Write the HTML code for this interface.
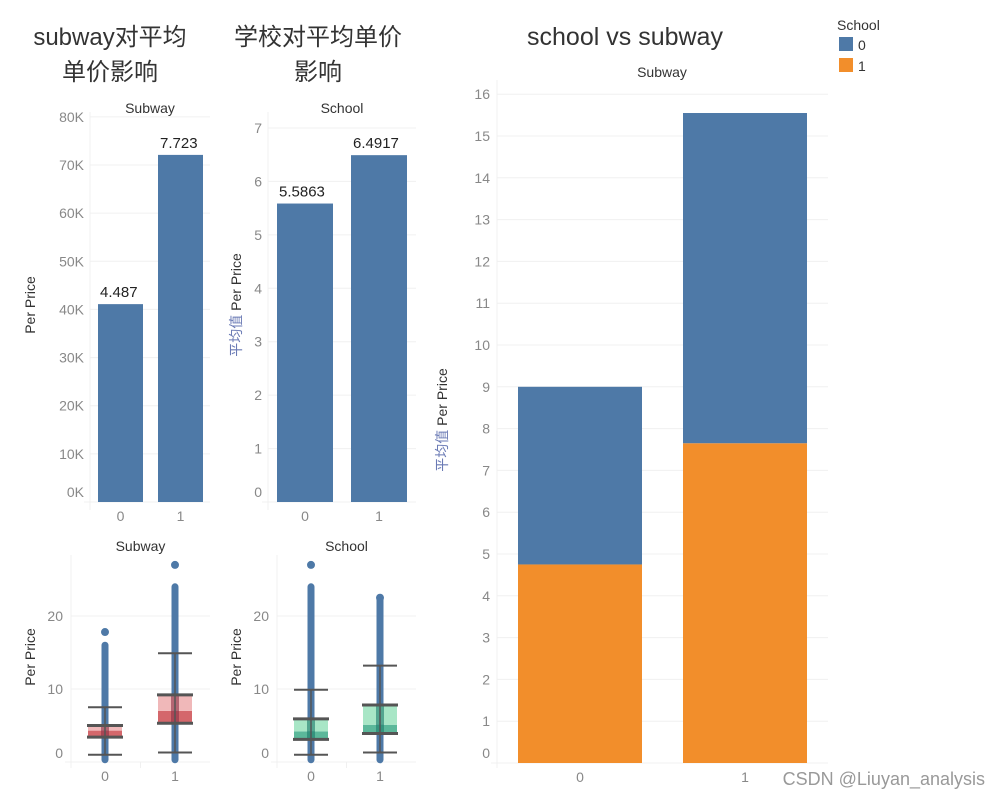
<!DOCTYPE html>
<html><head><meta charset="utf-8">
<style>
body{margin:0;background:#fff;}
svg{display:block;font-family:"Liberation Sans","Noto Sans CJK SC",sans-serif;}
.tick{fill:#888;font-size:14px;}
.grid{stroke:#f0f0f0;stroke-width:1;}
</style></head>
<body>
<svg id="c" width="1000" height="800">
<text x="110" y="45" font-size="24" fill="#333" text-anchor="middle">subway对平均</text>
<text x="110" y="80" font-size="24" fill="#333" text-anchor="middle">单价影响</text>
<text x="318" y="45" font-size="24" fill="#333" text-anchor="middle">学校对平均单价</text>
<text x="318" y="80" font-size="24" fill="#333" text-anchor="middle">影响</text>
<text x="625" y="45" font-size="25" fill="#333" text-anchor="middle">school vs subway</text>
<g>
<text x="837" y="30" font-size="14" fill="#333">School</text>
<rect x="839" y="37" width="14" height="14" fill="#4e79a7"/>
<text x="858" y="50" font-size="14" fill="#333">0</text>
<rect x="839" y="58" width="14" height="14" fill="#f28e2b"/>
<text x="858" y="71" font-size="14" fill="#333">1</text>
</g>
<text x="985" y="785" font-size="18" fill="#999" text-anchor="end">CSDN @Liuyan_analysis</text>
</svg>
<script>
// ---- data ----
const catLabels = ["0","1"];
const subwayMeans = [41100, 72100];
const subwayLabels = ["4.487","7.723"];
const subwayTicks = [0,10000,20000,30000,40000,50000,60000,70000,80000];
const subwayTickLabels = ["0K","10K","20K","30K","40K","50K","60K","70K","80K"];
const schoolMeans = [5.5863, 6.4917];
const schoolLabels = ["5.5863","6.4917"];
const schoolTicks = [0,1,2,3,4,5,6,7];
// box plot: [lowWhisker, q1, median, q3, highWhisker, outlierTop, maxPoint]
const subwayBox0 = [1.0, 3.4, 4.3, 5.0, 7.5, 16, 17.8];
const subwayBox1 = [1.3, 5.3, 7.0, 9.2, 14.9, 24, 27];
const schoolBox0 = [1.0, 3.1, 4.2, 5.9, 9.9, 24, 27];
const schoolBox1 = [1.3, 3.9, 5.1, 7.8, 13.2, 22.5, 22.5];
const boxTicks = [0,10,20];
const mainSchool0 = [4.25, 7.9];
const mainSchool1 = [4.75, 7.65];
const mainTicks = [0,1,2,3,4,5,6,7,8,9,10,11,12,13,14,15,16];

const svg = document.getElementById('c');
const NS = 'http://www.w3.org/2000/svg';
function mk(tag, attrs, parent){const e=document.createElementNS(NS,tag);for(const k in attrs)e.setAttribute(k,attrs[k]);(parent||svg).appendChild(e);return e;}
function txt(x,y,s,cls,extra){const t=mk('text',Object.assign({x:x,y:y},extra||{}));if(cls)t.setAttribute('class',cls);t.textContent=s;return t;}

function barPanel(name, x0, x1, base, yTop, vTop, ticks, tickLabels, vals, labels, bars, header, ytitle, cn, titleX){
  const g=mk('g',{});
  
  
  const y=v=>base-(v/vTop)*(base-yTop);
  mk('line',{x1:x0,x2:x0,y1:base-390,y2:base+8,class:'grid'},g);
  mk('line',{x1:x0-6,x2:x1,y1:base,y2:base,class:'grid'},g);
  ticks.forEach((t,i)=>{
    if(t>0) mk('line',{x1:x0,x2:x1,y1:y(t),y2:y(t),class:'grid'},g);
    const ty=Math.min(y(t)+5, base-5);
    const tl=txt(x0-6,ty,tickLabels[i],'tick',{'text-anchor':'end'});
    g.appendChild(tl);
    
    
  });
  vals.forEach((v,i)=>{
    const r=mk('rect',{x:bars[i][0],y:y(v),width:bars[i][1]-bars[i][0],height:base-y(v),fill:'#4e79a7'},g);
    
    
    const l=txt(bars[i][0]+2,y(v)-7,labels[i],null,{'font-size':15,fill:'#222'});
    g.appendChild(l);
    
    
    const c=txt((bars[i][0]+bars[i][1])/2,base+19,catLabels[i],'tick',{'text-anchor':'middle'});
    g.appendChild(c);
    
    
  });
  const h=txt((x0+x1)/2,113,header,null,{'font-size':14,fill:'#333','text-anchor':'middle'});
  g.appendChild(h);
  
  
  const yt=mk('text',{transform:'translate('+titleX+',305) rotate(-90)','font-size':14,fill:'#333','text-anchor':'middle'},g);
  
  
  if(cn){const s=mk('tspan',{fill:'#6a7ab5'},yt);s.textContent='平均值 ';}
  const s2=mk('tspan',{},yt);s2.textContent=ytitle;
}
barPanel('subway-mean-chart',90,210,502,165,70000,subwayTicks,subwayTickLabels,subwayMeans,subwayLabels,[[98,143],[158,203]],'Subway','Per Price',false,35);
barPanel('school-mean-chart',268,416,502,128,7,schoolTicks,schoolTicks.map(String),schoolMeans,schoolLabels,[[277,333],[351,407]],'School','Per Price',true,241);

function boxPanel(name,x0,x1,centers,boxes,header,dark,light,mid){
  const g=mk('g',{});
  
  
  const base=762;
  const y=v=>base-v*7.3;
  mk('line',{x1:x0,x2:x0,y1:555,y2:768,class:'grid'},g);
  mk('line',{x1:x0-6,x2:x1,y1:base,y2:base,class:'grid'},g);
  mk('line',{x1:(x0+x1)/2,x2:(x0+x1)/2,y1:base,y2:768,class:'grid'},g);
  boxTicks.forEach(t=>{
    if(t>0) mk('line',{x1:x0,x2:x1,y1:y(t),y2:y(t),class:'grid'},g);
    const tl=txt(x0-8,Math.min(y(t)+5,base-4),String(t),'tick',{'text-anchor':'end'});
    g.appendChild(tl);
    
    
  });
  boxes.forEach((b,i)=>{
    const cx=centers[i];
    const bg=mk('g',{},g);
    
    
    mk('line',{x1:cx,x2:cx,y1:y(0.3),y2:y(b[5]),stroke:'#4e79a7','stroke-width':7,'stroke-linecap':'round'},bg);
    mk('circle',{cx:cx,cy:y(b[6]),r:4,fill:'#4e79a7'},bg);
    mk('rect',{x:cx-17,y:y(b[2]),width:34,height:y(b[1])-y(b[2]),fill:dark},bg);
    mk('rect',{x:cx-17,y:y(b[3]),width:34,height:y(b[2])-y(b[3]),fill:light},bg);
    mk('rect',{x:cx-4,y:y(b[3]),width:8,height:y(b[1])-y(b[3]),fill:mid,opacity:0.6},bg);
    mk('line',{x1:cx,x2:cx,y1:y(b[0]),y2:y(b[4]),stroke:'#555','stroke-width':1.5},bg);
    [b[0],b[4]].forEach(v=>mk('line',{x1:cx-17,x2:cx+17,y1:y(v),y2:y(v),stroke:'#555','stroke-width':2},bg));
    [b[1],b[3]].forEach(v=>mk('line',{x1:cx-18,x2:cx+18,y1:y(v),y2:y(v),stroke:'#555','stroke-width':3},bg));
    const c=txt(cx,base+19,catLabels[i],'tick',{'text-anchor':'middle'});
    g.appendChild(c);
    
    
  });
  const h=txt((x0+x1)/2,551,header,null,{'font-size':14,fill:'#333','text-anchor':'middle'});
  g.appendChild(h);
  
  
  const yt=txt(0,0,'Per Price',null,{transform:'translate('+(x0-36)+',657) rotate(-90)','font-size':14,fill:'#333','text-anchor':'middle'});
  g.appendChild(yt);
  
  
}
boxPanel('subway-boxplot',71,210,[105,175],[subwayBox0,subwayBox1],'Subway','#d4676b','#f0b8b9','#8a2f45');
boxPanel('school-boxplot',277,416,[311,380],[schoolBox0,schoolBox1],'School','#5bb89a','#a8e6c6','#1a7a6a');

(function(){
  const g=mk('g',{});
  
  
  const x0=497,x1=828,base=763;
  const y=v=>base-v*41.8;
  mk('line',{x1:x0,x2:x0,y1:80,y2:768,class:'grid'},g);
  mk('line',{x1:x0-6,x2:x1,y1:base,y2:base,class:'grid'},g);
  mainTicks.forEach(t=>{
    if(t>0) mk('line',{x1:x0,x2:x1,y1:y(t),y2:y(t),class:'grid'},g);
    const tl=txt(x0-7,Math.min(y(t)+5,base-5),String(t),'tick',{'text-anchor':'end'});
    g.appendChild(tl);
    
    
  });
  const bars=[[518,642],[683,807]];
  mainSchool1.forEach((v,i)=>{
    const r1=mk('rect',{x:bars[i][0],y:y(v),width:bars[i][1]-bars[i][0],height:base-y(v),fill:'#f28e2b'},g);
    
    
    const top=v+mainSchool0[i];
    const r0=mk('rect',{x:bars[i][0],y:y(top),width:bars[i][1]-bars[i][0],height:y(v)-y(top),fill:'#4e79a7'},g);
    
    
    const c=txt((bars[i][0]+bars[i][1])/2,782,catLabels[i],'tick',{'text-anchor':'middle'});
    g.appendChild(c);
    
    
  });
  const h=txt(662,77,'Subway',null,{'font-size':14,fill:'#333','text-anchor':'middle'});
  g.appendChild(h);
  
  
  const yt=mk('text',{transform:'translate(447,420) rotate(-90)','font-size':14,fill:'#333','text-anchor':'middle'},g);
  
  
  const s=mk('tspan',{fill:'#6a7ab5'},yt);s.textContent='平均值 ';
  const s2=mk('tspan',{},yt);s2.textContent='Per Price';
})();
</script>
</body></html>
